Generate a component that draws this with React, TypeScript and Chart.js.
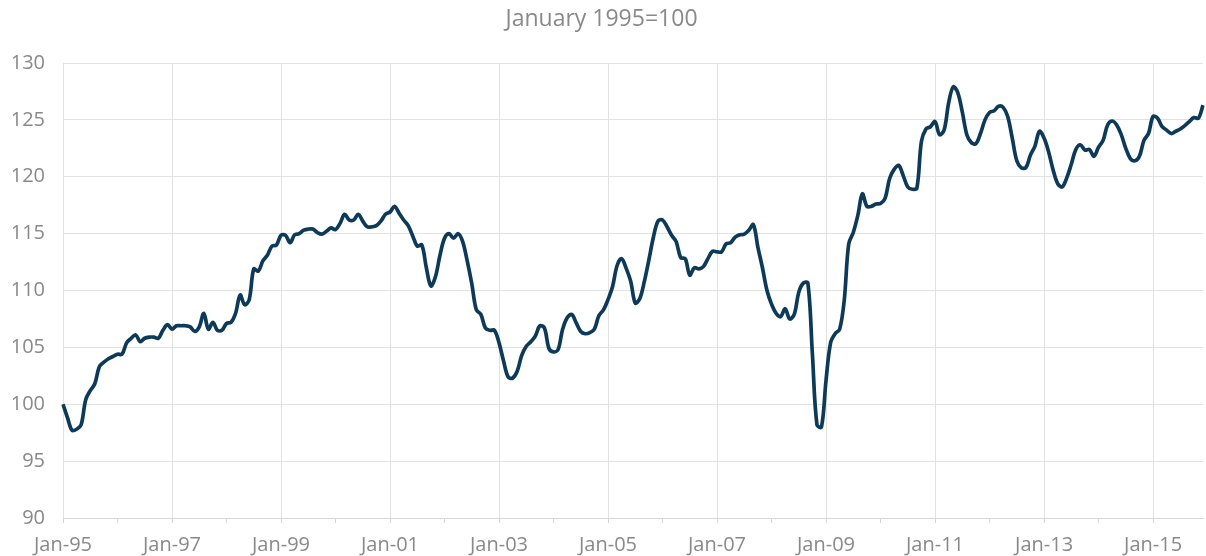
import React, { useEffect, useRef } from "react";
import { Chart, registerables } from "chart.js";

Chart.register(...registerables);

const TITLE = "January 1995=100";
const START_YEAR = 1995;
const MONTHS = ["Jan", "Feb", "Mar", "Apr", "May", "Jun", "Jul", "Aug", "Sep", "Oct", "Nov", "Dec"];
const TICK_LABELS = ["Jan-95", "Jan-97", "Jan-99", "Jan-01", "Jan-03", "Jan-05", "Jan-07", "Jan-09", "Jan-11", "Jan-13", "Jan-15"];

const y1995 = [100.0, 98.8, 97.7, 97.8, 98.2, 100.4, 101.2, 101.8, 103.3, 103.7, 104.0, 104.2];
const y1996 = [104.4, 104.4, 105.4, 105.8, 106.1, 105.5, 105.8, 105.9, 105.9, 105.8, 106.5, 107.0];
const y1997 = [106.6, 106.9, 106.9, 106.9, 106.8, 106.4, 106.8, 108.0, 106.6, 107.2, 106.5, 106.5];
const y1998 = [107.1, 107.2, 108.0, 109.6, 108.75, 109.2, 111.9, 111.7, 112.6, 113.1, 113.9, 114.0];
const y1999 = [114.85, 114.85, 114.2, 114.9, 115.0, 115.3, 115.4, 115.4, 115.1, 114.95, 115.2, 115.5];
const y2000 = [115.35, 115.9, 116.7, 116.2, 116.2, 116.7, 116.1, 115.6, 115.6, 115.7, 116.1, 116.7];
const y2001 = [116.9, 117.4, 116.8, 116.2, 115.7, 114.8, 113.9, 114.0, 112.0, 110.4, 111.2, 113.1];
const y2002 = [114.6, 115.0, 114.6, 115.0, 114.3, 112.6, 110.6, 108.3, 107.9, 106.7, 106.5, 106.5];
const y2003 = [105.4, 103.8, 102.4, 102.3, 102.9, 104.3, 105.1, 105.5, 106.0, 106.9, 106.7, 104.9];
const y2004 = [104.6, 104.8, 106.6, 107.6, 107.9, 107.15, 106.4, 106.2, 106.3, 106.6, 107.8, 108.3];
const y2005 = [109.2, 110.35, 112.2, 112.8, 111.95, 110.8, 108.9, 109.3, 110.8, 112.7, 114.7, 116.1];
const y2006 = [116.2, 115.6, 114.85, 114.3, 112.9, 112.8, 111.35, 112.0, 111.9, 112.1, 112.8, 113.45];
const y2007 = [113.4, 113.4, 114.1, 114.2, 114.7, 114.9, 114.95, 115.3, 115.8, 113.8, 112.0, 110.0];
const y2008 = [108.8, 108.0, 107.7, 108.4, 107.5, 107.9, 109.85, 110.65, 110.65, 104.4, 98.2, 98.0];
const y2009 = [102.1, 105.4, 106.2, 106.6, 109.1, 114.1, 115.1, 116.6, 118.5, 117.4, 117.4, 117.6];
const y2010 = [117.65, 118.1, 119.85, 120.65, 121.0, 120.1, 119.1, 118.9, 119.0, 123.1, 124.2, 124.4];
const y2011 = [124.85, 123.7, 124.1, 126.5, 127.9, 127.4, 125.7, 123.7, 123.0, 122.9, 123.8, 125.0];
const y2012 = [125.65, 125.8, 126.2, 126.1, 125.3, 123.4, 121.4, 120.8, 120.8, 121.9, 122.7, 124.0];
const y2013 = [123.4, 122.2, 120.6, 119.4, 119.1, 119.9, 121.1, 122.4, 122.8, 122.35, 122.4, 121.8];
const y2014 = [122.6, 123.2, 124.55, 124.9, 124.55, 123.7, 122.5, 121.6, 121.4, 121.8, 123.2, 123.8];
const y2015 = [125.3, 125.15, 124.4, 124.1, 123.8, 124.0, 124.2, 124.5, 124.85, 125.2, 125.15, 126.3];

const values = [
  ...y1995, ...y1996, ...y1997, ...y1998, ...y1999, ...y2000, ...y2001,
  ...y2002, ...y2003, ...y2004, ...y2005, ...y2006, ...y2007, ...y2008,
  ...y2009, ...y2010, ...y2011, ...y2012, ...y2013, ...y2014, ...y2015,
];

const labels: string[] = [];
for (let i = 0; i < values.length; i++) {
  const yr = START_YEAR + Math.floor(i / 12);
  labels.push(MONTHS[i % 12] + "-" + String(yr % 100).padStart(2, "0"));
}

const FONT = "'Open Sans', sans-serif";
const TEXT = "#898989";
const GRID = "#e2e2e2";

export default function App() {
  const ref = useRef<HTMLCanvasElement>(null);

  useEffect(() => {
    if (!ref.current) return;
    const chart = new Chart(ref.current, {
      type: "line",
      data: {
        labels,
        datasets: [
          {
            data: values,
            borderColor: "#0e3a5a",
            borderWidth: 3.7,
            pointRadius: 0,
            tension: 0.35,
            fill: false,
          },
        ],
      },
      options: {
        responsive: false,
        animation: false,
        layout: { padding: { left: 0, right: 3, top: 0, bottom: 0 } },
        plugins: {
          legend: { display: false },
          tooltip: { enabled: false },
          title: {
            display: true,
            text: TITLE,
            color: TEXT,
            font: { family: FONT, size: 23, weight: "normal" },
            padding: { top: 6, bottom: 29.4 },
          },
        },
        scales: {
          x: {
            type: "category",
            offset: false,
            afterFit: (s: any) => {
              s.height = 38;
              s.paddingLeft = 0;
              s.paddingRight = 0;
            },
            grid: {
              display: true,
              drawOnChartArea: true,
              color: (ctx: any) => (ctx.index % 24 === 0 ? GRID : "rgba(0,0,0,0)"),
              tickColor: (ctx: any) => (ctx.index % 12 === 0 ? "#d6d6d6" : "rgba(0,0,0,0)"),
              tickLength: 5,
              lineWidth: 1,
            },
            border: { display: true, color: "#d6d6d6" },
            ticks: {
              autoSkip: false,
              maxRotation: 0,
              minRotation: 0,
              padding: 10,
              color: TEXT,
              font: { family: FONT, size: 20 },
              callback: (_v: any, i: number) => {
                const l = labels[i];
                return TICK_LABELS.includes(l) ? l : "";
              },
            },
          },
          y: {
            min: 90,
            max: 130,
            afterFit: (s: any) => {
              s.width = 63;
            },
            grid: { color: GRID, drawTicks: false, lineWidth: 1 },
            border: { display: false },
            ticks: {
              stepSize: 5,
              padding: 18,
              color: TEXT,
              font: { family: FONT, size: 20 },
            },
          },
        },
      },
    });
    return () => chart.destroy();
  }, []);

  return (
    <div style={{ position: "fixed", left: 0, top: 0, width: 1206, height: 556, background: "#fff" }}>
      <canvas ref={ref} width={1206} height={556} style={{ width: 1206, height: 556, display: "block" }} />
    </div>
  );
}
